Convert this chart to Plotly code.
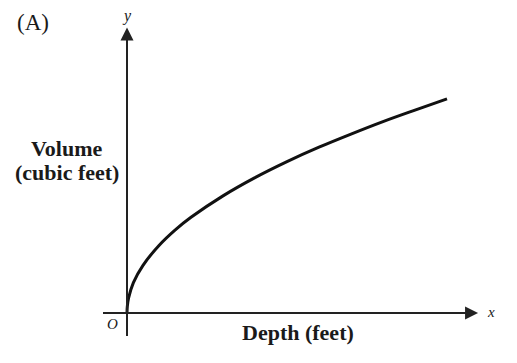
import plotly.graph_objects as go

# Data (depth units, volume units)
depth = [0, 0.01, 0.05, 0.2, 0.5, 1, 1.5, 2, 3, 4, 5, 6, 7, 8, 9, 10]
volume = [0, 0.21, 0.47, 0.95, 1.49, 2.11, 2.59, 2.99, 3.66, 4.23, 4.73, 5.18, 5.59, 5.98, 6.34, 6.69]

W, H = 517, 363
SERIF = "Times New Roman, Liberation Serif, DejaVu Serif, serif"
fig = go.Figure()
fig.add_trace(go.Scatter(x=depth, y=volume, mode="lines",
                         line=dict(color="#111111", width=3, shape="spline"),
                         hoverinfo="skip", showlegend=False))

def px(x, y, text, size, bold=False, italic=False):
    t = text
    if bold:
        t = "<b>" + t + "</b>"
    if italic:
        t = "<i>" + t + "</i>"
    fig.add_annotation(x=x / W, y=1 - y / H, xref="paper", yref="paper", text=t,
                       showarrow=False, font=dict(family=SERIF, size=size, color="#1a1a1a"),
                       xanchor="center", yanchor="middle")

# axes with arrows
fig.add_shape(type="line", x0=-0.75, y0=0, x1=10.85, y1=0, xref="x", yref="y",
              line=dict(color="#222222", width=2))
fig.add_shape(type="line", x0=0, y0=-0.72, x1=0, y1=8.8, xref="x", yref="y",
              line=dict(color="#222222", width=2))
fig.add_annotation(x=10.97, y=0, ax=10.5, ay=0, xref="x", yref="y", axref="x", ayref="y",
                   text="", showarrow=True, arrowhead=2, arrowsize=1.3, arrowwidth=2, arrowcolor="#222222")
fig.add_annotation(x=0, y=8.92, ax=0, ay=8.4, xref="x", yref="y", axref="x", ayref="y",
                   text="", showarrow=True, arrowhead=2, arrowsize=1.3, arrowwidth=2, arrowcolor="#222222")

px(33, 23, "(A)", 23)
px(127, 16, "y", 16, italic=True)
px(491, 312, "x", 15, italic=True)
px(112, 324, "O", 15, italic=True)
px(67, 148, "Volume", 22, bold=True)
px(67, 172, "(cubic feet)", 22, bold=True)
px(298, 332, "Depth (feet)", 22, bold=True)

fig.update_layout(width=W, height=H, margin=dict(l=0, r=0, t=0, b=0),
                  paper_bgcolor="white", plot_bgcolor="white",
                  font=dict(family=SERIF),
                  xaxis=dict(range=[-127 / 32, (W - 127) / 32], visible=False, fixedrange=True),
                  yaxis=dict(range=[-(H - 313) / 32, 313 / 32], visible=False, fixedrange=True))
fig.write_html("out.html", config={"displayModeBar": False},
               post_script="document.body.style.margin='0';document.body.style.padding='0';")
